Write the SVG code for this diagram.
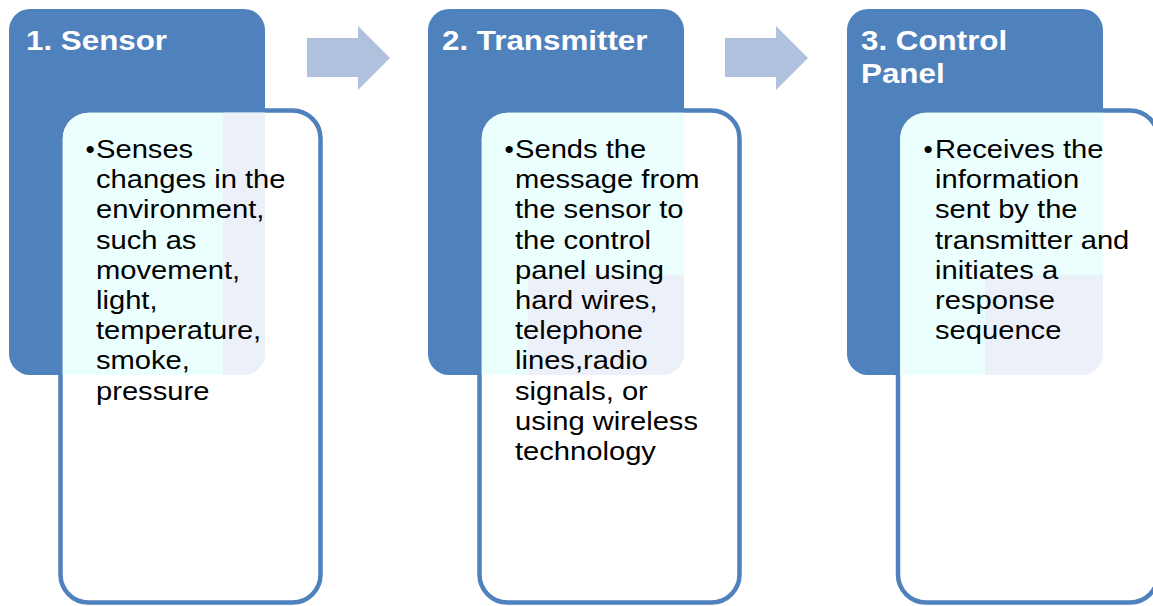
<svg xmlns="http://www.w3.org/2000/svg" width="1153" height="606" viewBox="0 0 1153 606">
<style>
.hdr{fill:#4F81BD}
.card{fill:#FFFFFF;stroke:#4F81BD;stroke-width:4.5}
.cy{fill:#EBFFFF}
.gr{fill:#ECF0F8}
.arrow{fill:#B0C1DD}
.ht{font-family:"Liberation Sans",Arial,sans-serif;font-weight:bold;font-size:27.5px;fill:#FFFFFF}
.bt{font-family:"Liberation Sans",Arial,sans-serif;font-size:26.5px;fill:#000000}
</style>
<defs>
<clipPath id="c1"><rect x="9" y="9" width="256" height="366" rx="21"/></clipPath>
<clipPath id="c2"><rect x="428" y="9" width="256" height="366" rx="21"/></clipPath>
<clipPath id="c3"><rect x="847" y="9" width="256" height="366" rx="21"/></clipPath>
</defs>
<g id="connectors">
<polygon class="arrow" points="307,38 358,38 358,26 390,58 358,90 358,77 307,77"/>
<polygon class="arrow" points="725,38 776,38 776,26 808,58 776,90 776,77 725,77"/>
</g>
<g id="node1">
<rect class="hdr" x="9" y="9" width="256" height="366" rx="21"/>
<rect class="card" x="60.5" y="110.5" width="260" height="492" rx="28"/>
<g clip-path="url(#c1)">
<rect class="cy" x="62.75" y="112.75" width="255.5" height="487.5" rx="26"/>
<rect class="gr" x="223" y="112.75" width="60" height="300"/>
</g>
<text class="ht" transform="translate(26,50) scale(1.14,1)">1. Sensor</text>
<text class="bt" x="85.5" y="158">•</text>
<g class="bt" transform="translate(96,0) scale(1.1,1)">
<text x="0" y="158">Senses</text>
<text x="0" y="188.2">changes in the</text>
<text x="0" y="218.4">environment,</text>
<text x="0" y="248.6">such as</text>
<text x="0" y="278.8">movement,</text>
<text x="0" y="309">light,</text>
<text x="0" y="339.2">temperature,</text>
<text x="0" y="369.4">smoke,</text>
<text x="0" y="399.6">pressure</text>
</g>
</g>
<g id="node2">
<rect class="hdr" x="428" y="9" width="256" height="366" rx="21"/>
<rect class="card" x="479.5" y="110.5" width="260" height="492" rx="28"/>
<g clip-path="url(#c2)">
<rect class="cy" x="481.75" y="112.75" width="255.5" height="487.5" rx="26"/>
<rect class="gr" x="528" y="275" width="170" height="140"/>
</g>
<text class="ht" transform="translate(442,50) scale(1.14,1)">2. Transmitter</text>
<text class="bt" x="504.5" y="158">•</text>
<g class="bt" transform="translate(515,0) scale(1.1,1)">
<text x="0" y="158">Sends the</text>
<text x="0" y="188.2">message from</text>
<text x="0" y="218.4">the sensor to</text>
<text x="0" y="248.6">the control</text>
<text x="0" y="278.8">panel using</text>
<text x="0" y="309">hard wires,</text>
<text x="0" y="339.2">telephone</text>
<text x="0" y="369.4">lines,radio</text>
<text x="0" y="399.6">signals, or</text>
<text x="0" y="429.8">using wireless</text>
<text x="0" y="460">technology</text>
</g>
</g>
<g id="node3">
<rect class="hdr" x="847" y="9" width="256" height="366" rx="21"/>
<rect class="card" x="898" y="110.5" width="260" height="492" rx="28"/>
<g clip-path="url(#c3)">
<rect class="cy" x="900.25" y="112.75" width="255.5" height="487.5" rx="26"/>
<rect class="gr" x="985" y="275" width="130" height="140"/>
</g>
<text class="ht" transform="translate(861,50) scale(1.14,1)">3. Control</text>
<text class="ht" transform="translate(861,83) scale(1.14,1)">Panel</text>
<text class="bt" x="923.5" y="158">•</text>
<g class="bt" transform="translate(935,0) scale(1.1,1)">
<text x="0" y="158">Receives the</text>
<text x="0" y="188.2">information</text>
<text x="0" y="218.4">sent by the</text>
<text x="0" y="248.6">transmitter and</text>
<text x="0" y="278.8">initiates a</text>
<text x="0" y="309">response</text>
<text x="0" y="339.2">sequence</text>
</g>
</g>
</svg>
